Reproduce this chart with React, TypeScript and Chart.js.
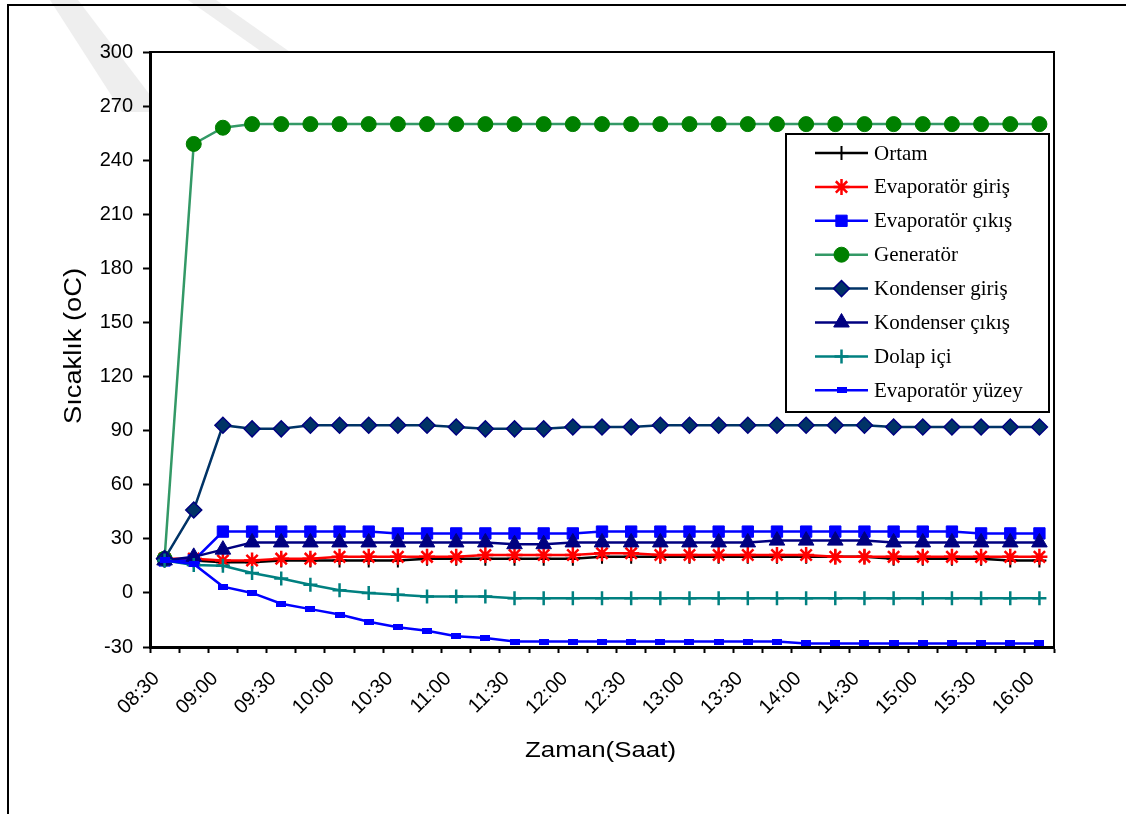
import React, { useEffect, useRef } from 'react';
import { Chart, registerables } from 'chart.js';
import { drawPoint } from 'chart.js/helpers';

Chart.register(...registerables);

// Measurement times (every 15 minutes)
const timeLabels = [
  '08:30', '08:45', '09:00', '09:15', '09:30', '09:45', '10:00', '10:15',
  '10:30', '10:45', '11:00', '11:15', '11:30', '11:45', '12:00', '12:15',
  '12:30', '12:45', '13:00', '13:15', '13:30', '13:45', '14:00', '14:15',
  '14:30', '14:45', '15:00', '15:15', '15:30', '15:45', '16:00',
];

// Temperatures (°C)
const ortam = [18, 18, 17, 17, 18, 18, 18, 18, 18, 19, 19, 19, 19, 19, 19, 20, 20, 20, 20, 20, 20, 20, 20, 20, 20, 19, 19, 19, 19, 18, 18];
const evaporatorGiris = [19, 19, 18, 18, 19, 19, 20, 20, 20, 20, 20, 21, 21, 21, 21, 22, 22, 21, 21, 21, 21, 21, 21, 20, 20, 20, 20, 20, 20, 20, 20];
const evaporatorCikis = [18, 18, 34, 34, 34, 34, 34, 34, 33, 33, 33, 33, 33, 33, 33, 34, 34, 34, 34, 34, 34, 34, 34, 34, 34, 34, 34, 34, 33, 33, 33];
const generator = [19, 249, 258, 260, 260, 260, 260, 260, 260, 260, 260, 260, 260, 260, 260, 260, 260, 260, 260, 260, 260, 260, 260, 260, 260, 260, 260, 260, 260, 260, 260];
const kondenserGiris = [19, 46, 93, 91, 91, 93, 93, 93, 93, 93, 92, 91, 91, 91, 92, 92, 92, 93, 93, 93, 93, 93, 93, 93, 93, 92, 92, 92, 92, 92, 92];
const kondenserCikis = [18, 20, 24, 28, 28, 28, 28, 28, 28, 28, 28, 28, 27, 27, 28, 28, 28, 28, 28, 28, 28, 29, 29, 29, 29, 28, 28, 28, 28, 28, 28];
const dolapIci = [18, 15.5, 15, 11, 8, 4.5, 1.5, 0, -1, -2, -2, -2, -3, -3, -3, -3, -3, -3, -3, -3, -3, -3, -3, -3, -3, -3, -3, -3, -3, -3, -3];
const evaporatorYuzey = [18, 16, 3.5, 0, -6, -9, -12, -16, -19, -21, -24, -25, -27, -27, -27, -27, -27, -27, -27, -27, -27, -27, -28, -28, -28, -28, -28, -28, -28, -28, -28];

const yTicks = { min: -30, max: 300, step: 30 };

const sansFont = '"Liberation Sans", Arial, sans-serif';
const serifFont = '"Liberation Serif", "Times New Roman", serif';

function barMarker(color: string) {
  const c = document.createElement('canvas');
  c.width = 10;
  c.height = 6;
  const g = c.getContext('2d')!;
  g.fillStyle = color;
  g.fillRect(0, 0, 10, 6);
  return c;
}

function buildDatasets() {
  const surfaceMarker = barMarker('#0000FF');
  const defs = [
    { label: 'Ortam', data: ortam, line: '#000000', fill: '#000000', border: '#000000', style: 'cross', radius: 7, bw: 2 },
    { label: 'Evaporatör giriş', data: evaporatorGiris, line: '#FF0000', fill: '#FF0000', border: '#FF0000', style: 'star', radius: 8, bw: 2.5 },
    { label: 'Evaporatör çıkış', data: evaporatorCikis, line: '#0000FF', fill: '#0000FF', border: '#0000FF', style: 'rect', radius: 8, bw: 1 },
    { label: 'Generatör', data: generator, line: '#339966', fill: '#008000', border: '#008000', style: 'circle', radius: 7.5, bw: 1 },
    { label: 'Kondenser giriş', data: kondenserGiris, line: '#003366', fill: '#003366', border: '#000080', style: 'rectRot', radius: 8, bw: 1.5 },
    { label: 'Kondenser çıkış', data: kondenserCikis, line: '#000080', fill: '#000080', border: '#000080', style: 'triangle', radius: 9, bw: 1 },
    { label: 'Dolap içi', data: dolapIci, line: '#008080', fill: '#008080', border: '#008080', style: 'cross', radius: 7, bw: 2.5 },
    { label: 'Evaporatör yüzey', data: evaporatorYuzey, line: '#0000FF', fill: '#0000FF', border: '#0000FF', style: surfaceMarker as any, radius: 5, bw: 1 },
  ];
  return defs.map((d, i) => ({
    label: d.label,
    data: d.data,
    borderColor: d.line,
    borderWidth: 2.5,
    pointStyle: d.style,
    pointRadius: d.radius,
    pointBackgroundColor: d.fill,
    pointBorderColor: d.border,
    pointBorderWidth: d.bw,
    tension: 0,
    fill: false,
    order: defs.length - i,
  }));
}

// Page frame, watermark bands, plot box, legend and axis titles
const decorPlugin = {
  id: 'decor',
  beforeDraw(chart: any) {
    const { ctx, chartArea: a, width, height } = chart;
    ctx.save();
    ctx.fillStyle = '#ffffff';
    ctx.fillRect(0, 0, width, height);
    ctx.fillStyle = '#eeeeee';
    ctx.beginPath();
    ctx.moveTo(50, 0); ctx.lineTo(78, 0); ctx.lineTo(150, 95); ctx.lineTo(150, 112); ctx.lineTo(122, 112);
    ctx.closePath();
    ctx.fill();
    ctx.beginPath();
    ctx.moveTo(188, 0); ctx.lineTo(216, 0); ctx.lineTo(290, 52); ctx.lineTo(262, 52);
    ctx.closePath();
    ctx.fill();
    ctx.strokeStyle = '#000000';
    ctx.lineWidth = 2;
    ctx.beginPath();
    ctx.moveTo(8, height); ctx.lineTo(8, 5); ctx.lineTo(width, 5);
    ctx.stroke();
    ctx.fillStyle = '#ffffff';
    ctx.fillRect(a.left, a.top, a.right - a.left, a.bottom - a.top);
    ctx.restore();
  },
  afterDraw(chart: any) {
    const { ctx, chartArea: a } = chart;
    ctx.save();
    // top and right edges of the plot box
    ctx.strokeStyle = '#000000';
    ctx.lineWidth = 2;
    ctx.beginPath();
    ctx.moveTo(a.left, a.top); ctx.lineTo(a.right, a.top); ctx.lineTo(a.right, a.bottom);
    ctx.stroke();

    // legend
    const lx = 786, ly = 134, lw = 263, lh = 278;
    ctx.fillStyle = '#ffffff';
    ctx.fillRect(lx, ly, lw, lh);
    ctx.lineWidth = 2;
    ctx.strokeRect(lx, ly, lw, lh);
    const datasets = chart.data.datasets;
    ctx.font = `21px ${serifFont}`;
    ctx.textBaseline = 'middle';
    ctx.textAlign = 'left';
    datasets.forEach((ds: any, i: number) => {
      const y = 153 + i * 33.9;
      ctx.strokeStyle = ds.borderColor;
      ctx.lineWidth = 2.5;
      ctx.beginPath();
      ctx.moveTo(815, y); ctx.lineTo(868, y);
      ctx.stroke();
      ctx.fillStyle = ds.pointBackgroundColor;
      ctx.strokeStyle = ds.pointBorderColor;
      ctx.lineWidth = ds.pointBorderWidth;
      drawPoint(ctx, { pointStyle: ds.pointStyle, rotation: 0, borderWidth: ds.pointBorderWidth, radius: ds.pointRadius } as any, 841.5, y);
      ctx.fillStyle = '#000000';
      ctx.fillText(ds.label, 874, y + 1);
    });

    // axis titles, stretched to their drawn widths
    ctx.fillStyle = '#000000';
    ctx.font = `22px ${sansFont}`;
    ctx.textAlign = 'center';
    ctx.textBaseline = 'alphabetic';
    const xt = 'Zaman(Saat)';
    const xs = 151 / ctx.measureText(xt).width;
    ctx.save();
    ctx.translate(600.5, 756.5);
    ctx.scale(xs, 1);
    ctx.fillText(xt, 0, 0);
    ctx.restore();
    ctx.font = `23px ${sansFont}`;
    const yt = 'Sıcaklık (oC)';
    const ys = 156 / ctx.measureText(yt).width;
    ctx.save();
    ctx.translate(81, 346);
    ctx.rotate(-Math.PI / 2);
    ctx.scale(ys, 1);
    ctx.fillText(yt, 0, 0);
    ctx.restore();
    ctx.restore();
  },
};

export default function App() {
  const ref = useRef<HTMLCanvasElement | null>(null);

  useEffect(() => {
    document.body.style.margin = '0';
    const canvas = ref.current!;
    const chart = new Chart(canvas, {
      type: 'line',
      data: { labels: timeLabels, datasets: buildDatasets() as any },
      options: {
        responsive: false,
        animation: false,
        devicePixelRatio: 1,
        layout: { padding: { left: 0, right: 72, top: 52, bottom: 0 } },
        plugins: {
          legend: { display: false },
          tooltip: { enabled: false },
          title: { display: false },
        },
        scales: {
          x: {
            type: 'category',
            offset: true,
            grid: {
              offset: true,
              drawOnChartArea: false,
              drawTicks: true,
              tickLength: 6,
              tickWidth: 2,
              tickColor: '#000000',
            },
            border: { display: true, color: '#000000', width: 3 },
            ticks: {
              autoSkip: false,
              minRotation: 45,
              maxRotation: 45,
              padding: 14,
              labelOffset: -8,
              color: '#000000',
              font: { family: sansFont, size: 20 },
              callback: (_v: any, i: number) => (i % 2 === 0 ? timeLabels[i] : ''),
            },
            afterFit: (s: any) => { s.height = 167; },
          },
          y: {
            min: yTicks.min,
            max: yTicks.max,
            grid: {
              drawOnChartArea: false,
              drawTicks: true,
              tickLength: 7,
              tickWidth: 2,
              tickColor: '#000000',
            },
            border: { display: true, color: '#000000', width: 3 },
            ticks: {
              stepSize: yTicks.step,
              padding: 10,
              color: '#000000',
              font: { family: sansFont, size: 20 },
            },
            afterFit: (s: any) => { s.width = 150; },
          },
        },
      },
      plugins: [decorPlugin],
    });
    return () => chart.destroy();
  }, []);

  return (
    <div style={{ width: 1126, height: 814, position: 'relative' }}>
      <canvas ref={ref} width={1126} height={814} style={{ display: 'block' }} />
    </div>
  );
}
